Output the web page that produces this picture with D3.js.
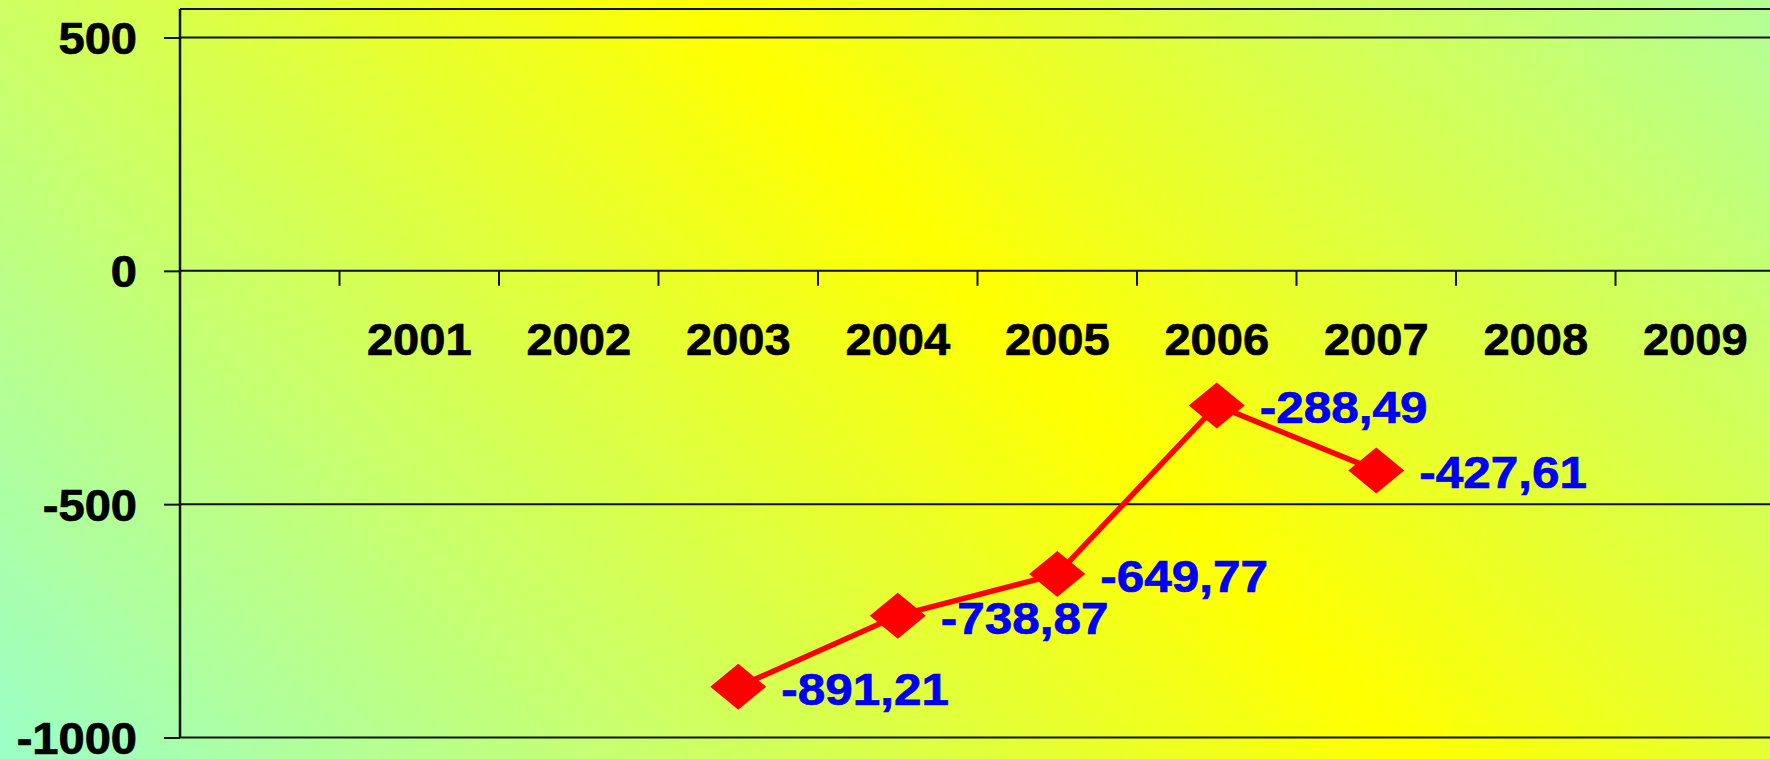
<!DOCTYPE html>
<html>
<head>
<meta charset="utf-8">
<script src="https://cdn.jsdelivr.net/npm/d3@7"></script>
<style>
  html, body { margin: 0; padding: 0; overflow: hidden; }
  svg { display: block; }
  text { font-family: "Liberation Sans", Arial, sans-serif; font-weight: bold; }
</style>
</head>
<body>
<svg id="chart" width="1770" height="759"></svg>
<script>
// Categories (the first band is left unlabeled)
const categories = ["", "2001", "2002", "2003", "2004", "2005", "2006", "2007", "2008", "2009"];
// Series: years with values and the values themselves
const seriesYears = ["2003", "2004", "2005", "2006", "2007"];
const seriesValues = [-891.21, -738.87, -649.77, -288.49, -427.61];
// Value axis ticks
const yTicks = [-1000, -500, 0, 500];

const W = 1770, H = 759;
const svg = d3.select("#chart");

// Diagonal background wash: aqua -> yellow -> aqua
const defs = svg.append("defs");
const grad = defs.append("linearGradient")
  .attr("id", "bg")
  .attr("gradientUnits", "userSpaceOnUse")
  .attr("x1", -54).attr("y1", 708)
  .attr("x2", 1442).attr("y2", -708);
grad.append("stop").attr("offset", "0%").attr("stop-color", "#9affc8");
grad.append("stop").attr("offset", "50%").attr("stop-color", "#ffff00");
grad.append("stop").attr("offset", "100%").attr("stop-color", "#9affc8");

svg.append("rect").attr("width", W).attr("height", H).attr("fill", "url(#bg)");

const plotLeft = 180, plotTop = 9;
const stretch = 1.07; // slightly wide lettering
const x = d3.scaleBand().domain(categories).range([plotLeft, plotLeft + 159.5 * categories.length]).padding(0);
const y = d3.scaleLinear().domain([-1000, 500]).range([737.5, 37.5]);

// Horizontal gridlines
svg.append("g").selectAll("line").data(yTicks).join("line")
  .attr("x1", plotLeft).attr("x2", W)
  .attr("y1", d => y(d)).attr("y2", d => y(d))
  .attr("stroke", "#111").attr("stroke-width", 2);

// Plot area top edge
svg.append("line")
  .attr("x1", plotLeft).attr("x2", W)
  .attr("y1", plotTop).attr("y2", plotTop)
  .attr("stroke", "#111").attr("stroke-width", 2);

// Value axis
const yAxis = svg.append("g")
  .attr("transform", `translate(${plotLeft},0)`)
  .call(d3.axisLeft(y).tickValues(yTicks).tickSizeInner(16).tickSizeOuter(0).tickPadding(27)
    .tickFormat(d => String(d)));
yAxis.select(".domain").remove();
yAxis.selectAll(".tick line").attr("stroke", "#111").attr("stroke-width", 2);
yAxis.selectAll(".tick text")
  .attr("fill", "#000").attr("stroke", "#000").attr("stroke-width", 0.7)
  .attr("font-size", 44).attr("dy", "0.36em")
  .attr("x", -43 / stretch)
  .attr("transform", `scale(${stretch},1)`)
  .style("font-family", "'Liberation Sans', Arial, sans-serif").style("font-weight", "bold");

svg.append("line")
  .attr("x1", plotLeft).attr("x2", plotLeft)
  .attr("y1", plotTop).attr("y2", y(-1000))
  .attr("stroke", "#111").attr("stroke-width", 2.5);

// Category axis along zero
const xAxis = svg.append("g")
  .attr("transform", `translate(0,${y(0)})`)
  .call(d3.axisBottom(x).tickSizeInner(0).tickSizeOuter(0).tickPadding(53));
xAxis.select(".domain").remove();
xAxis.selectAll(".tick line").remove();
xAxis.selectAll(".tick text")
  .attr("fill", "#000").attr("stroke", "#000").attr("stroke-width", 0.7)
  .attr("font-size", 44)
  .attr("transform", `scale(${stretch},1)`)
  .style("font-family", "'Liberation Sans', Arial, sans-serif").style("font-weight", "bold");

// Category tick marks on band boundaries
svg.append("g").selectAll("line").data(categories.slice(1)).join("line")
  .attr("x1", d => x(d)).attr("x2", d => x(d))
  .attr("y1", y(0)).attr("y2", y(0) + 15)
  .attr("stroke", "#111").attr("stroke-width", 2);

// Series
const pts = seriesYears.map((yr, i) => ({ cx: x(yr) + x.bandwidth() / 2, cy: y(seriesValues[i]), v: seriesValues[i] }));

svg.append("path")
  .datum(pts)
  .attr("fill", "none")
  .attr("stroke", "#ff0000")
  .attr("stroke-width", 5.5)
  .attr("stroke-linejoin", "round")
  .attr("d", d3.line().x(d => d.cx).y(d => d.cy));

svg.append("g").selectAll("path").data(pts).join("path")
  .attr("transform", d => `translate(${d.cx},${d.cy})`)
  .attr("d", "M0,-23L28,0L0,23L-28,0Z")
  .attr("fill", "#ff0000");

const fmt = v => v.toFixed(2).replace(".", ",");
svg.append("g").selectAll("text").data(pts).join("text")
  .attr("transform", d => `translate(${d.cx + 43},${d.cy + 18}) scale(1.1,1)`)
  .attr("font-size", 45)
  .attr("fill", "#0000f0").attr("stroke", "#0000f0").attr("stroke-width", 0.7)
  .text(d => fmt(d.v));
</script>
</body>
</html>
